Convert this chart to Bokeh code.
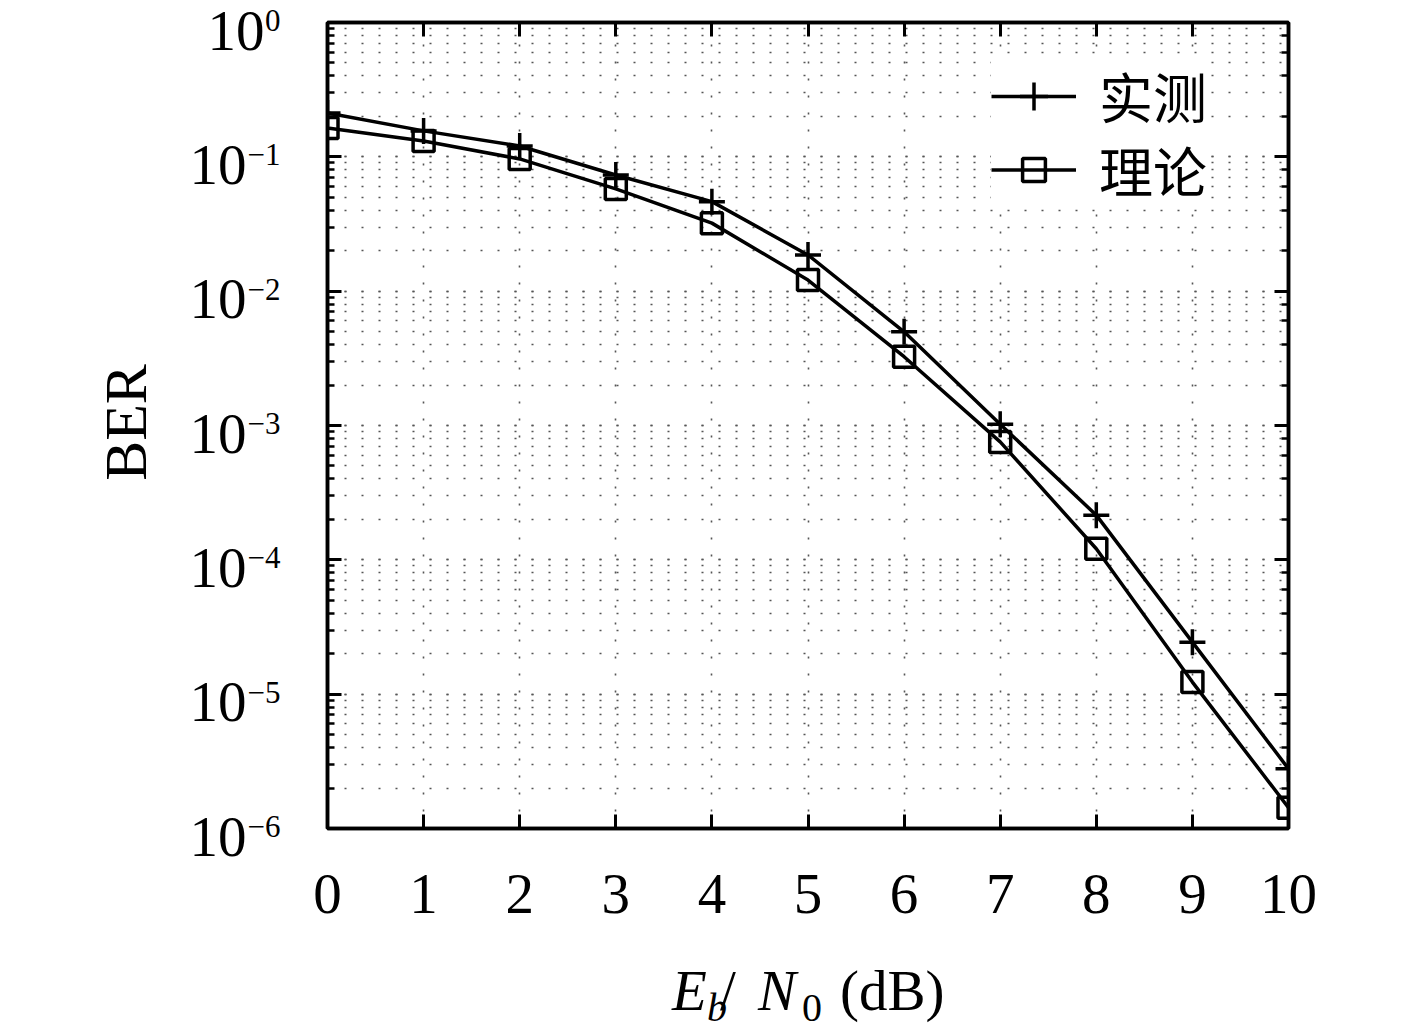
import math
from bokeh.plotting import figure
from bokeh.layouts import row, column
from bokeh.models import (Range1d, LogAxis, LinearAxis, FixedTicker, LogScale,
                          Legend, LegendItem, CustomJSTickFormatter)
from bokeh.core.properties import value
from bokeh.embed import file_html
from bokeh.resources import INLINE

# ---------------- data ----------------
eb_n0 = [0, 1, 2, 3, 4, 5, 6, 7, 8, 9, 10]
ber_measured = [0.212, 0.156, 0.1205, 0.0733, 0.0464, 0.0186, 0.00498,
                0.00102, 2.15e-4, 2.44e-5, 2.78e-6]
ber_theory = [0.164, 0.131, 0.0965, 0.0577, 0.0321, 0.0121, 0.00325,
              7.55e-4, 1.21e-4, 1.23e-5, 1.43e-6]
x_ticks = [0, 1, 2, 3, 4, 5, 6, 7, 8, 9, 10]
y_exponents = [0, -1, -2, -3, -4, -5, -6]
legend_labels = ["实测", "理论"]
y_label = "BER"

SERIF = "Liberation Serif"
CJK = "Noto Sans CJK SC"
FS = "57px"

H = 960                 # height of main plot panel
TOP, BOT = 22, 132      # borders so that the frame spans y 22..828
FRAME_H = H - TOP - BOT
LEFT_W = 307            # width of the side panel holding the y labels
y_lo, y_hi = min(y_exponents), max(y_exponents)
yr = Range1d(10.0 ** y_lo, 10.0 ** y_hi)
xr = Range1d(min(x_ticks), max(x_ticks))

# ---------------- main plot ----------------
p = figure(width=1101, height=H, x_range=xr, y_range=yr,
           y_axis_type="log", output_backend="svg", toolbar_location=None,
           min_border_left=20, min_border_right=120,
           min_border_top=TOP, min_border_bottom=BOT)
p.background_fill_color = "white"
p.border_fill_color = "white"
p.outline_line_color = "black"
p.outline_line_width = 3.5


def style_axis(ax, minor, show_labels=False):
    ax.axis_line_color = "black"
    ax.axis_line_width = 3.5
    ax.major_tick_in = 14
    ax.major_tick_out = 0
    ax.major_tick_line_color = "black"
    ax.major_tick_line_width = 3
    ax.minor_tick_in = 7 if minor else 0
    ax.minor_tick_out = 0
    ax.minor_tick_line_width = 2.5
    ax.minor_tick_line_color = "black" if minor else None
    if not show_labels:
        ax.formatter = CustomJSTickFormatter(code="return ''")
        ax.major_label_standoff = 0
        ax.major_label_text_font_size = "10px"


xax = p.xaxis[0]
xax.ticker = FixedTicker(ticks=x_ticks, minor_ticks=[])
style_axis(xax, False, True)
xax.major_label_text_font = SERIF
xax.major_label_text_font_size = FS
xax.major_label_text_color = "black"
xax.major_label_standoff = 46

yax = p.yaxis[0]
style_axis(yax, True, False)

top = LinearAxis(ticker=FixedTicker(ticks=x_ticks, minor_ticks=[]))
style_axis(top, False, False)
p.add_layout(top, "above")
right = LogAxis()
style_axis(right, True, False)
p.add_layout(right, "right")

for g in (p.xgrid, p.ygrid):
    g.grid_line_color = "#555555"
    g.grid_line_dash = "2 15"
    g.grid_line_width = 1.6
p.ygrid.minor_grid_line_color = "#555555"
p.ygrid.minor_grid_line_dash = "2 15"
p.ygrid.minor_grid_line_width = 1.6

r1l = p.line(eb_n0, ber_measured, line_color="black", line_width=3.5)
r1m = p.scatter(eb_n0, ber_measured, marker="cross", size=26,
                line_color="black", line_width=3.5)
r2l = p.line(eb_n0, ber_theory, line_color="black", line_width=3.5)
r2m = p.scatter(eb_n0, ber_theory, marker="square", size=21,
                line_color="black", fill_color=None, line_width=3.5)

legA = Legend(items=[LegendItem(label=legend_labels[0], renderers=[r1l, r1m])],
              location=(664, 693), glyph_width=85, glyph_height=70,
              label_height=70, padding=12, spacing=0, margin=0,
              label_standoff=23, label_text_font=CJK,
              label_text_font_size="54px", label_text_color="black",
              border_line_color=None, background_fill_color="white",
              background_fill_alpha=1.0)
legB = Legend(items=[LegendItem(label=legend_labels[1], renderers=[r2l, r2m])],
              location=(664, 619), glyph_width=85, glyph_height=57,
              label_height=57, padding=12, spacing=0, margin=0,
              label_standoff=23, label_text_font=CJK,
              label_text_font_size="54px", label_text_color="black",
              border_line_color=None, background_fill_color="white",
              background_fill_alpha=1.0)
p.add_layout(legA)
p.add_layout(legB)

# ---------------- left panel: y tick labels and y title ----------------
# same log scale as the main frame, extended over the full panel height
dec_px = FRAME_H / (y_hi - y_lo)
lf_range = Range1d(10.0 ** (y_lo - BOT / dec_px), 10.0 ** (y_hi + TOP / dec_px))
lf = figure(width=LEFT_W, height=H, x_range=Range1d(0, LEFT_W), y_range=lf_range,
            x_axis_type=None, y_axis_type=None, output_backend="svg",
            toolbar_location=None, min_border=0)
lf.y_scale = LogScale()
lf.outline_line_color = None
lf.background_fill_color = "white"
lf.border_fill_color = "white"

LABEL_RIGHT = 280
ten_y = [10.0 ** k for k in y_exponents]
sup_txt = ["0" if k == 0 else "\u2212" + str(-k) for k in y_exponents]
sup_w = [15 if k == 0 else 33 for k in y_exponents]
lf.text(x=[LABEL_RIGHT] * len(ten_y), y=ten_y, text=sup_txt,
        text_align="right", text_baseline="alphabetic", y_offset=-2,
        text_font=value(SERIF), text_font_size="31px", text_color="black")
lf.text(x=[LABEL_RIGHT - w - 1 for w in sup_w], y=ten_y,
        text=["10"] * len(ten_y),
        text_align="right", text_baseline="alphabetic", y_offset=8,
        text_font=value(SERIF), text_font_size=FS, text_color="black")
lf.text(x=[125], y=[1e-3], text=[y_label], angle=math.pi / 2,
        text_align="center", text_baseline="middle", y_offset=-3,
        text_font=value(SERIF), text_font_size="60px", text_color="black")

# ---------------- bottom panel: x title E_b/N_0 (dB) ----------------
bf = figure(width=1101, height=70, x_range=xr, y_range=Range1d(0, 70),
            x_axis_type=None, y_axis_type=None, output_backend="svg",
            toolbar_location=None, min_border_left=20, min_border_right=120,
            min_border_top=0, min_border_bottom=0)
bf.outline_line_color = None
bf.background_fill_color = "white"
bf.border_fill_color = "white"
xl_text = ["E", "b", "/", "N", "0", "(dB)"]
xl_dx = [-136, -101, -88, -50, -6, 32]
xl_y = [40, 23, 40, 40, 23, 40]
xl_size = [FS, "40px", FS, FS, "40px", FS]
xl_style = ["italic", "italic", "normal", "italic", "normal", "normal"]
for t, dx, yy, fs, st in zip(xl_text, xl_dx, xl_y, xl_size, xl_style):
    bf.text(x=[5], y=[yy], text=[t], x_offset=dx, text_align="left",
            text_baseline="alphabetic", text_font=value(SERIF),
            text_font_size=fs, text_font_style=st, text_color="black")

layout = row(lf, column(p, bf, spacing=0), spacing=0)
open("out.html", "w").write(file_html(layout, INLINE))
